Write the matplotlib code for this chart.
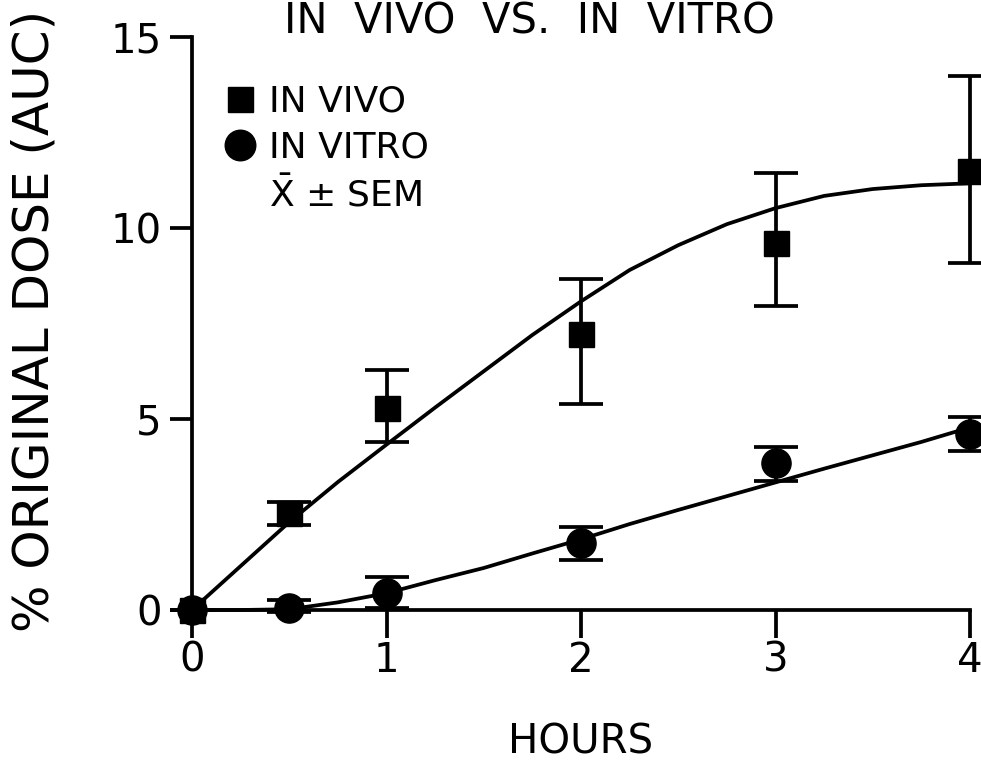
import numpy as np
import matplotlib
matplotlib.use("Agg")
import matplotlib.pyplot as plt
from matplotlib.lines import Line2D

# measured points (mean, lower/upper SEM)
hours = [0, 0.5, 1, 2, 3, 4]
vivo_mean = [0, 2.53, 5.30, 7.23, 9.61, 11.49]
vivo_lo = [0, 0.31, 0.91, 1.85, 1.65, 2.40]
vivo_hi = [0, 0.29, 0.97, 1.44, 1.83, 2.48]
vitro_mean = [0, 0.05, 0.44, 1.75, 3.84, 4.62]
vitro_lo = [0, 0.10, 0.39, 0.44, 0.45, 0.47]
vitro_hi = [0, 0.21, 0.42, 0.42, 0.42, 0.42]

# fitted curves
curve_t = [0, 0.25, 0.5, 0.75, 1.0, 1.25, 1.5, 1.75, 2.0, 2.25, 2.5, 2.75, 3.0, 3.25, 3.5, 3.75, 4.0]
vivo_curve = [0, 1.15, 2.3, 3.35, 4.33, 5.3, 6.25, 7.2, 8.08, 8.9, 9.55, 10.1, 10.52, 10.84, 11.02, 11.12, 11.17]
vitro_curve = [0, 0.0, 0.02, 0.2, 0.44, 0.78, 1.1, 1.48, 1.85, 2.25, 2.62, 2.98, 3.34, 3.7, 4.05, 4.4, 4.78]

x_ticks = [0, 1, 2, 3, 4]
y_ticks = [0, 5, 10, 15]

plt.rcParams['font.family'] = ['DejaVu Sans']
lw = 2.7

fig = plt.figure(figsize=(9.81, 7.77), dpi=100)
ax = fig.add_axes([192 / 981, 1 - 610 / 777, (970 - 192) / 981, (610 - 37) / 777])

ax.plot(curve_t, vivo_curve, color='k', lw=lw, clip_on=False, zorder=3)
ax.plot(curve_t, vitro_curve, color='k', lw=lw, clip_on=False, zorder=3)

eb1 = ax.errorbar(hours, vivo_mean, yerr=[vivo_lo, vivo_hi], fmt='s', color='k', ms=18,
                  elinewidth=lw, capsize=16, capthick=lw, clip_on=False, zorder=4)
eb2 = ax.errorbar(hours, vitro_mean, yerr=[vitro_lo, vitro_hi], fmt='o', color='k', ms=21,
                  elinewidth=lw, capsize=16, capthick=lw, clip_on=False, zorder=4)
for eb in (eb1, eb2):
    for art in eb.lines[1] + eb.lines[2]:
        art.set_clip_on(False)
    eb.lines[0].set_clip_on(False)

ax.set_xlim(0, 4)
ax.set_ylim(0, 15)
ax.set_xticks(x_ticks)
ax.set_yticks(y_ticks)
ax.set_xticklabels([str(v) for v in x_ticks])
ax.set_yticklabels([str(v) for v in y_ticks])
ax.tick_params(axis='x', direction='out', length=20, width=lw, labelsize=29, pad=2)
ax.tick_params(axis='y', direction='out', length=16, width=lw, labelsize=29, pad=6)
for s in ('top', 'right'):
    ax.spines[s].set_visible(False)
for s in ('left', 'bottom'):
    ax.spines[s].set_linewidth(lw)

ax.set_xlabel('HOURS', fontsize=29, labelpad=30)
ax.set_ylabel('% ORIGINAL DOSE (AUC)', fontsize=36)
ax.yaxis.set_label_coords(-0.172, 0.505)

fig.text(0.54, 1 - 1 / 777, 'IN  VIVO  VS.  IN  VITRO', fontsize=30, ha='center', va='top')

handles = [
    Line2D([], [], marker='s', ls='none', color='k', ms=18),
    Line2D([], [], marker='o', ls='none', color='k', ms=22),
    Line2D([], [], ls='none'),
]
labels = ['IN VIVO', 'IN VITRO', r'$\bar{\mathsf{X}}$ ± SEM']
ax.legend(handles, labels, loc='upper left', bbox_to_anchor=(0.025, 0.942), frameon=False,
          fontsize=26, handlelength=0.8, handletextpad=0.4, labelspacing=0.33, borderaxespad=0)

fig.savefig('out.png', dpi=100)
